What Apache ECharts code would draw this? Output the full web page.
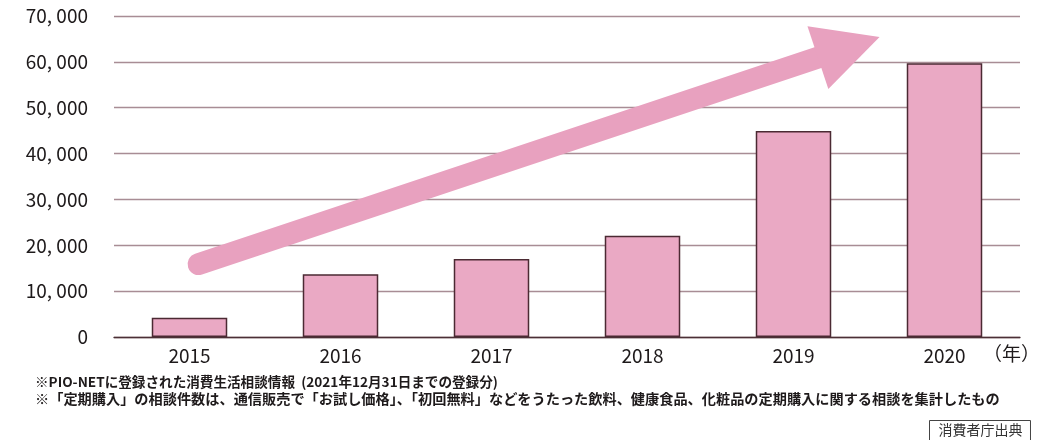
<!DOCTYPE html>
<html>
<head>
<meta charset="utf-8">
<script src="https://cdn.jsdelivr.net/npm/echarts@6/dist/echarts.min.js"></script>
<style>
  html, body { margin: 0; padding: 0; background: #fff; }
  #content { width: 1043px; height: 440px; }
</style>
</head>
<body>
<div id="content"></div>
<script>
var years = ['2015', '2016', '2017', '2018', '2019', '2020'];
var counts = [4200, 13700, 17000, 22100, 44900, 59700];
var yTicks = [0, 10000, 20000, 30000, 40000, 50000, 60000, 70000];
// trend arrow: tail and tip in axis units (hidden value x axis from -0.5 to 5.5)
var arrowFrom = [0.06, 15900];
var arrowTip = [4.57, 65400];

var notes = [
    '※PIO-NETに登録された消費生活相談情報  (2021年12月31日までの登録分)',
    '※「定期購入」の相談件数は、通信販売で「お試し価格」、「初回無料」などをうたった飲料、健康食品、化粧品の定期購入に関する相談を集計したもの'
];
var source = '消費者庁出典';

!(function(window) {
    var myChart = echarts.init(document.getElementById('content'));
    var font = '"Noto Sans CJK JP", "Noto Sans", sans-serif';
    var pink = '#e8a1bf';

    function renderArrow(params, api) {
        var s = api.coord([api.value(0), api.value(1)]);
        var t = api.coord([api.value(2), api.value(3)]);
        var dx = t[0] - s[0], dy = t[1] - s[1];
        var len = Math.sqrt(dx * dx + dy * dy);
        var ux = dx / len, uy = dy / len;
        var nx = -uy, ny = ux;
        var headLen = 65, headHalf = 33;
        var bx = t[0] - ux * headLen, by = t[1] - uy * headLen;
        return {
            type: 'group',
            children: [{
                type: 'line',
                shape: { x1: s[0], y1: s[1], x2: bx + ux * 4, y2: by + uy * 4 },
                style: { stroke: pink, lineWidth: 22, lineCap: 'round' }
            }, {
                type: 'polygon',
                shape: {
                    points: [
                        [t[0], t[1]],
                        [bx + nx * headHalf, by + ny * headHalf],
                        [bx - nx * headHalf, by - ny * headHalf]
                    ]
                },
                style: { fill: pink }
            }]
        };
    }

    var option = {
        animation: false,
        grid: { left: 114, right: 23, top: 16, bottom: 103 },
        xAxis: [{
            type: 'category',
            data: years,
            axisLine: { lineStyle: { color: '#4b3036', width: 1.3 } },
            axisTick: { length: 7, lineStyle: { color: '#4b3036', width: 1.3 } },
            axisLabel: { color: '#1e1a1b', fontSize: 19, fontFamily: font, margin: 9 }
        }, {
            type: 'value',
            min: -0.5,
            max: 5.5,
            show: false
        }],
        yAxis: {
            type: 'value',
            min: yTicks[0],
            max: yTicks[yTicks.length - 1],
            interval: 10000,
            axisLine: { show: false },
            axisTick: { show: false },
            splitLine: { lineStyle: { color: '#a88d95', width: 1.3 } },
            axisLabel: {
                color: '#1e1a1b',
                fontSize: 19,
                fontFamily: font,
                margin: 26,
                formatter: function(v) {
                    return v.toLocaleString('en-US').replace(',', ', ');
                }
            }
        },
        series: [{
            type: 'bar',
            data: counts,
            barWidth: '50%',
            itemStyle: { color: '#eaa9c4', borderColor: '#4b2a33', borderWidth: 1.5 }
        }, {
            type: 'custom',
            xAxisIndex: 1,
            yAxisIndex: 0,
            renderItem: renderArrow,
            silent: true,
            data: [[arrowFrom[0], arrowFrom[1], arrowTip[0], arrowTip[1]]],
            z: 5
        }],
        graphic: [{
            type: 'text',
            left: 983,
            top: 344,
            style: { text: '（年）', fill: '#1e1a1b', font: '19px ' + font }
        }, {
            type: 'text',
            left: 35,
            top: 375,
            style: { text: notes[0], fill: '#1e1a1b', font: 'bold 13.6px ' + font }
        }, {
            type: 'text',
            left: 35,
            top: 392,
            style: { text: notes[1], fill: '#1e1a1b', font: 'bold 14.2px ' + font }
        }, {
            type: 'text',
            left: 929,
            top: 420,
            style: {
                text: source,
                fill: '#333',
                font: '14px ' + font,
                borderColor: '#444',
                borderWidth: 1,
                padding: [2, 8, 6, 9]
            }
        }]
    };
    myChart.setOption(option);
})(window);
</script>
</body>
</html>
